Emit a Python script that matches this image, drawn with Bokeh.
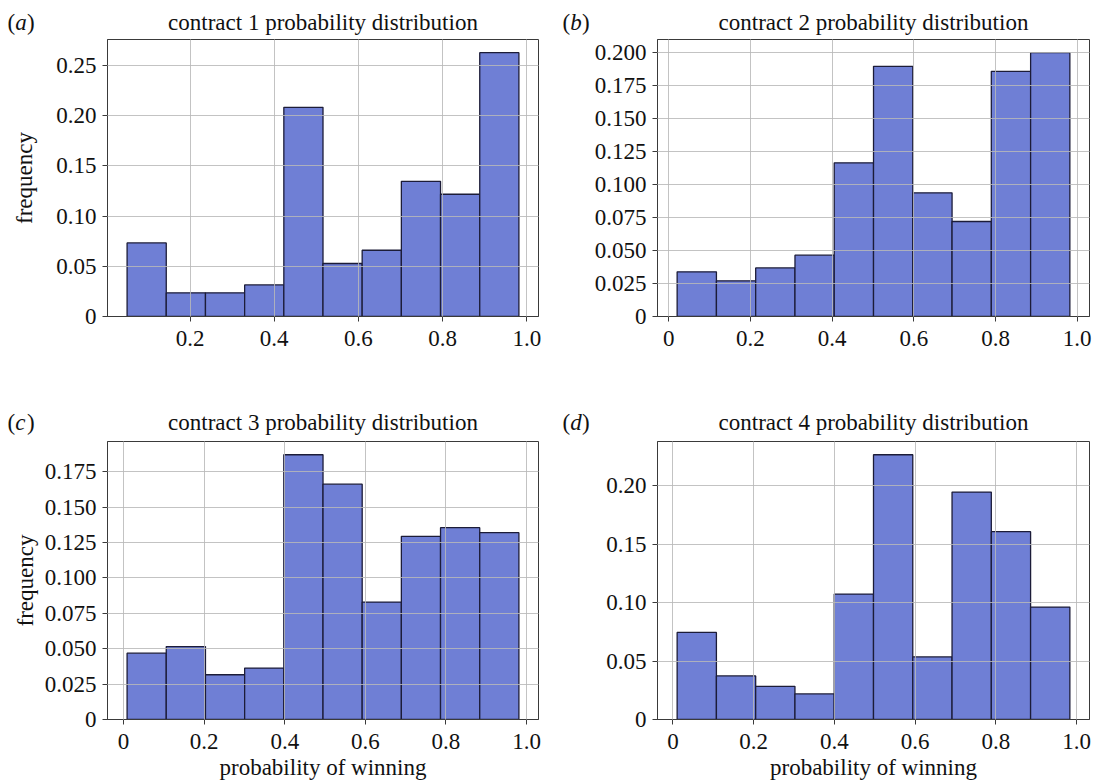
from bokeh.plotting import figure
from bokeh.layouts import column, row
from bokeh.models import Range1d, FixedTicker
from bokeh.core.properties import value
from bokeh.embed import file_html
from bokeh.resources import INLINE

# ---- data ----
titles = ["contract 1 probability distribution", "contract 2 probability distribution",
          "contract 3 probability distribution", "contract 4 probability distribution"]
tags = ["a", "b", "c", "d"]

edges_1 = [0.0506, 0.1436, 0.2367, 0.3297, 0.4228, 0.5158, 0.6088, 0.7019, 0.7949, 0.8880, 0.9810]
freq_1 = [0.0733, 0.0236, 0.0236, 0.0315, 0.2084, 0.0528, 0.0660, 0.1347, 0.1218, 0.2628]

edges_2 = [0.0205, 0.1167, 0.2128, 0.3090, 0.4051, 0.5013, 0.5974, 0.6936, 0.7897, 0.8859, 0.9820]
freq_2 = [0.0338, 0.0270, 0.0368, 0.0464, 0.1163, 0.1894, 0.0936, 0.0719, 0.1856, 0.1997]

edges_3 = [0.0087, 0.1059, 0.2032, 0.3004, 0.3976, 0.4949, 0.5921, 0.6893, 0.7865, 0.8838, 0.9810]
freq_3 = [0.0468, 0.0515, 0.0316, 0.0363, 0.1869, 0.1661, 0.0829, 0.1293, 0.1354, 0.1319]

edges_4 = [0.0105, 0.1078, 0.2051, 0.3024, 0.3997, 0.4970, 0.5943, 0.6916, 0.7889, 0.8862, 0.9835]
freq_4 = [0.0745, 0.0373, 0.0284, 0.0219, 0.1073, 0.2265, 0.0535, 0.1946, 0.1607, 0.0962]

x_ticks_1 = [0.2, 0.4, 0.6, 0.8, 1.0]
x_tick_labels_1 = ["0.2", "0.4", "0.6", "0.8", "1.0"]
x_ticks = [0.0, 0.2, 0.4, 0.6, 0.8, 1.0]
x_tick_labels = ["0", "0.2", "0.4", "0.6", "0.8", "1.0"]

y_ticks_a = [0.0, 0.05, 0.10, 0.15, 0.20, 0.25]
y_labels_a = ["0", "0.05", "0.10", "0.15", "0.20", "0.25"]
y_ticks_b = [0.0, 0.025, 0.05, 0.075, 0.10, 0.125, 0.15, 0.175, 0.20]
y_labels_b = ["0", "0.025", "0.050", "0.075", "0.100", "0.125", "0.150", "0.175", "0.200"]
y_ticks_c = [0.0, 0.025, 0.05, 0.075, 0.10, 0.125, 0.15, 0.175]
y_labels_c = ["0", "0.025", "0.050", "0.075", "0.100", "0.125", "0.150", "0.175"]
y_ticks_d = [0.0, 0.05, 0.10, 0.15, 0.20]
y_labels_d = ["0", "0.05", "0.10", "0.15", "0.20"]

x_label = "probability of winning"
y_label = "frequency"

FONT = "Liberation Serif"
FS = "23px"
BAR = "#6f7fd5"
EDGE = "#1c1c38"
GRID = "#b8b8b8"
SPINE = "#3a3a3a"
INK = "#111111"


def header(pairs, w, h, text_y):
    """Full-width strip above a row of panels: (tag, title, tag_x, title_center_x)."""
    p = figure(width=w, height=h, output_backend="svg", toolbar_location=None,
               title=None, x_axis_type=None, y_axis_type=None,
               x_range=Range1d(0, w), y_range=Range1d(h, 0),
               min_border=0, min_border_left=0, min_border_right=0,
               min_border_top=0, min_border_bottom=0)
    p.outline_line_color = None
    p.background_fill_color = "white"
    p.border_fill_color = "white"
    common = dict(text_font=value(FONT), text_font_size=value(FS),
                  text_color=INK, text_baseline="alphabetic")
    for tag, title, tx, cx in pairs:
        p.text(x=[tx], y=[text_y], text=["("], text_align="left", **common)
        p.text(x=[tx + 7.7], y=[text_y], text=[tag], text_align="left",
               text_font_style="italic", **common)
        p.text(x=[tx + 19.5], y=[text_y], text=[")"], text_align="left", **common)
        p.text(x=[cx], y=[text_y], text=[title], text_align="center", **common)
    return p


def panel(edges, freqs, xt, xtl, yt, ytl, w, h, bl, br, bt, bb,
          show_y, show_x, y_standoff):
    lo, hi = edges[0], edges[-1]
    pad = 0.05 * (hi - lo)
    ymax = max(freqs) * 1.05
    p = figure(width=w, height=h, output_backend="svg", toolbar_location=None,
               title=None,
               x_range=Range1d(lo - pad, hi + pad), y_range=Range1d(0, ymax),
               min_border_left=bl, min_border_right=br, min_border_top=bt,
               min_border_bottom=bb)
    p.quad(left=edges[:-1], right=edges[1:], bottom=0, top=freqs,
           fill_color=BAR, line_color=EDGE, line_width=1.3)

    p.xaxis.ticker = FixedTicker(ticks=xt)
    p.xaxis.major_label_overrides = {t: l for t, l in zip(xt, xtl)}
    p.yaxis.ticker = FixedTicker(ticks=yt)
    p.yaxis.major_label_overrides = {t: l for t, l in zip(yt, ytl)}
    for ax in (p.xaxis[0], p.yaxis[0]):
        ax.major_label_text_font = FONT
        ax.major_label_text_font_size = FS
        ax.major_label_text_color = INK
        ax.axis_line_color = SPINE
        ax.major_tick_line_color = SPINE
        ax.major_tick_out = 5
        ax.major_tick_in = 0
        ax.minor_tick_line_color = None
        ax.axis_label_text_font = FONT
        ax.axis_label_text_font_size = FS
        ax.axis_label_text_font_style = "normal"
        ax.axis_label_text_color = INK
    p.xaxis.major_label_standoff = 9
    p.yaxis.major_label_standoff = 6
    if show_y:
        p.yaxis.axis_label = y_label
        p.yaxis.axis_label_standoff = y_standoff
    if show_x:
        p.xaxis.axis_label = x_label
        p.xaxis.axis_label_standoff = 3

    for g in (p.xgrid[0], p.ygrid[0]):
        g.grid_line_color = GRID
        g.grid_line_width = 1
        g.grid_line_alpha = 0.85
        g.level = "overlay"
    p.outline_line_color = SPINE
    p.outline_line_width = 1
    p.outline_line_alpha = 1
    p.background_fill_color = "white"
    p.border_fill_color = "white"
    return p


# top row: header 38 px, frames 39..316 ; bottom row: header 40 px, frames 441..719
h1 = header([(tags[0], titles[0], 7, (107 + 538) / 2),
             (tags[1], titles[1], 548 + 14, 548 + (109 + 541) / 2)], 1096, 38, 22)
h2 = header([(tags[2], titles[2], 7, (107 + 538) / 2),
             (tags[3], titles[3], 548 + 14, 548 + (109 + 541) / 2)], 1096, 40, 22)

pa = panel(edges_1, freq_1, x_ticks_1, x_tick_labels_1, y_ticks_a, y_labels_a,
           548, 362, 107, 10, 1, 84, True, False, 16)
pb = panel(edges_2, freq_2, x_ticks, x_tick_labels, y_ticks_b, y_labels_b,
           548, 362, 109, 7, 1, 84, False, False, 8)
pc = panel(edges_3, freq_3, x_ticks, x_tick_labels, y_ticks_c, y_labels_c,
           548, 342, 107, 10, 1, 63, True, True, 4)
pd = panel(edges_4, freq_4, x_ticks, x_tick_labels, y_ticks_d, y_labels_d,
           548, 342, 109, 7, 1, 63, False, True, 8)

layout = column(h1, row(pa, pb, spacing=0), h2, row(pc, pd, spacing=0), spacing=0)
open("out.html", "w").write(file_html(layout, INLINE))
